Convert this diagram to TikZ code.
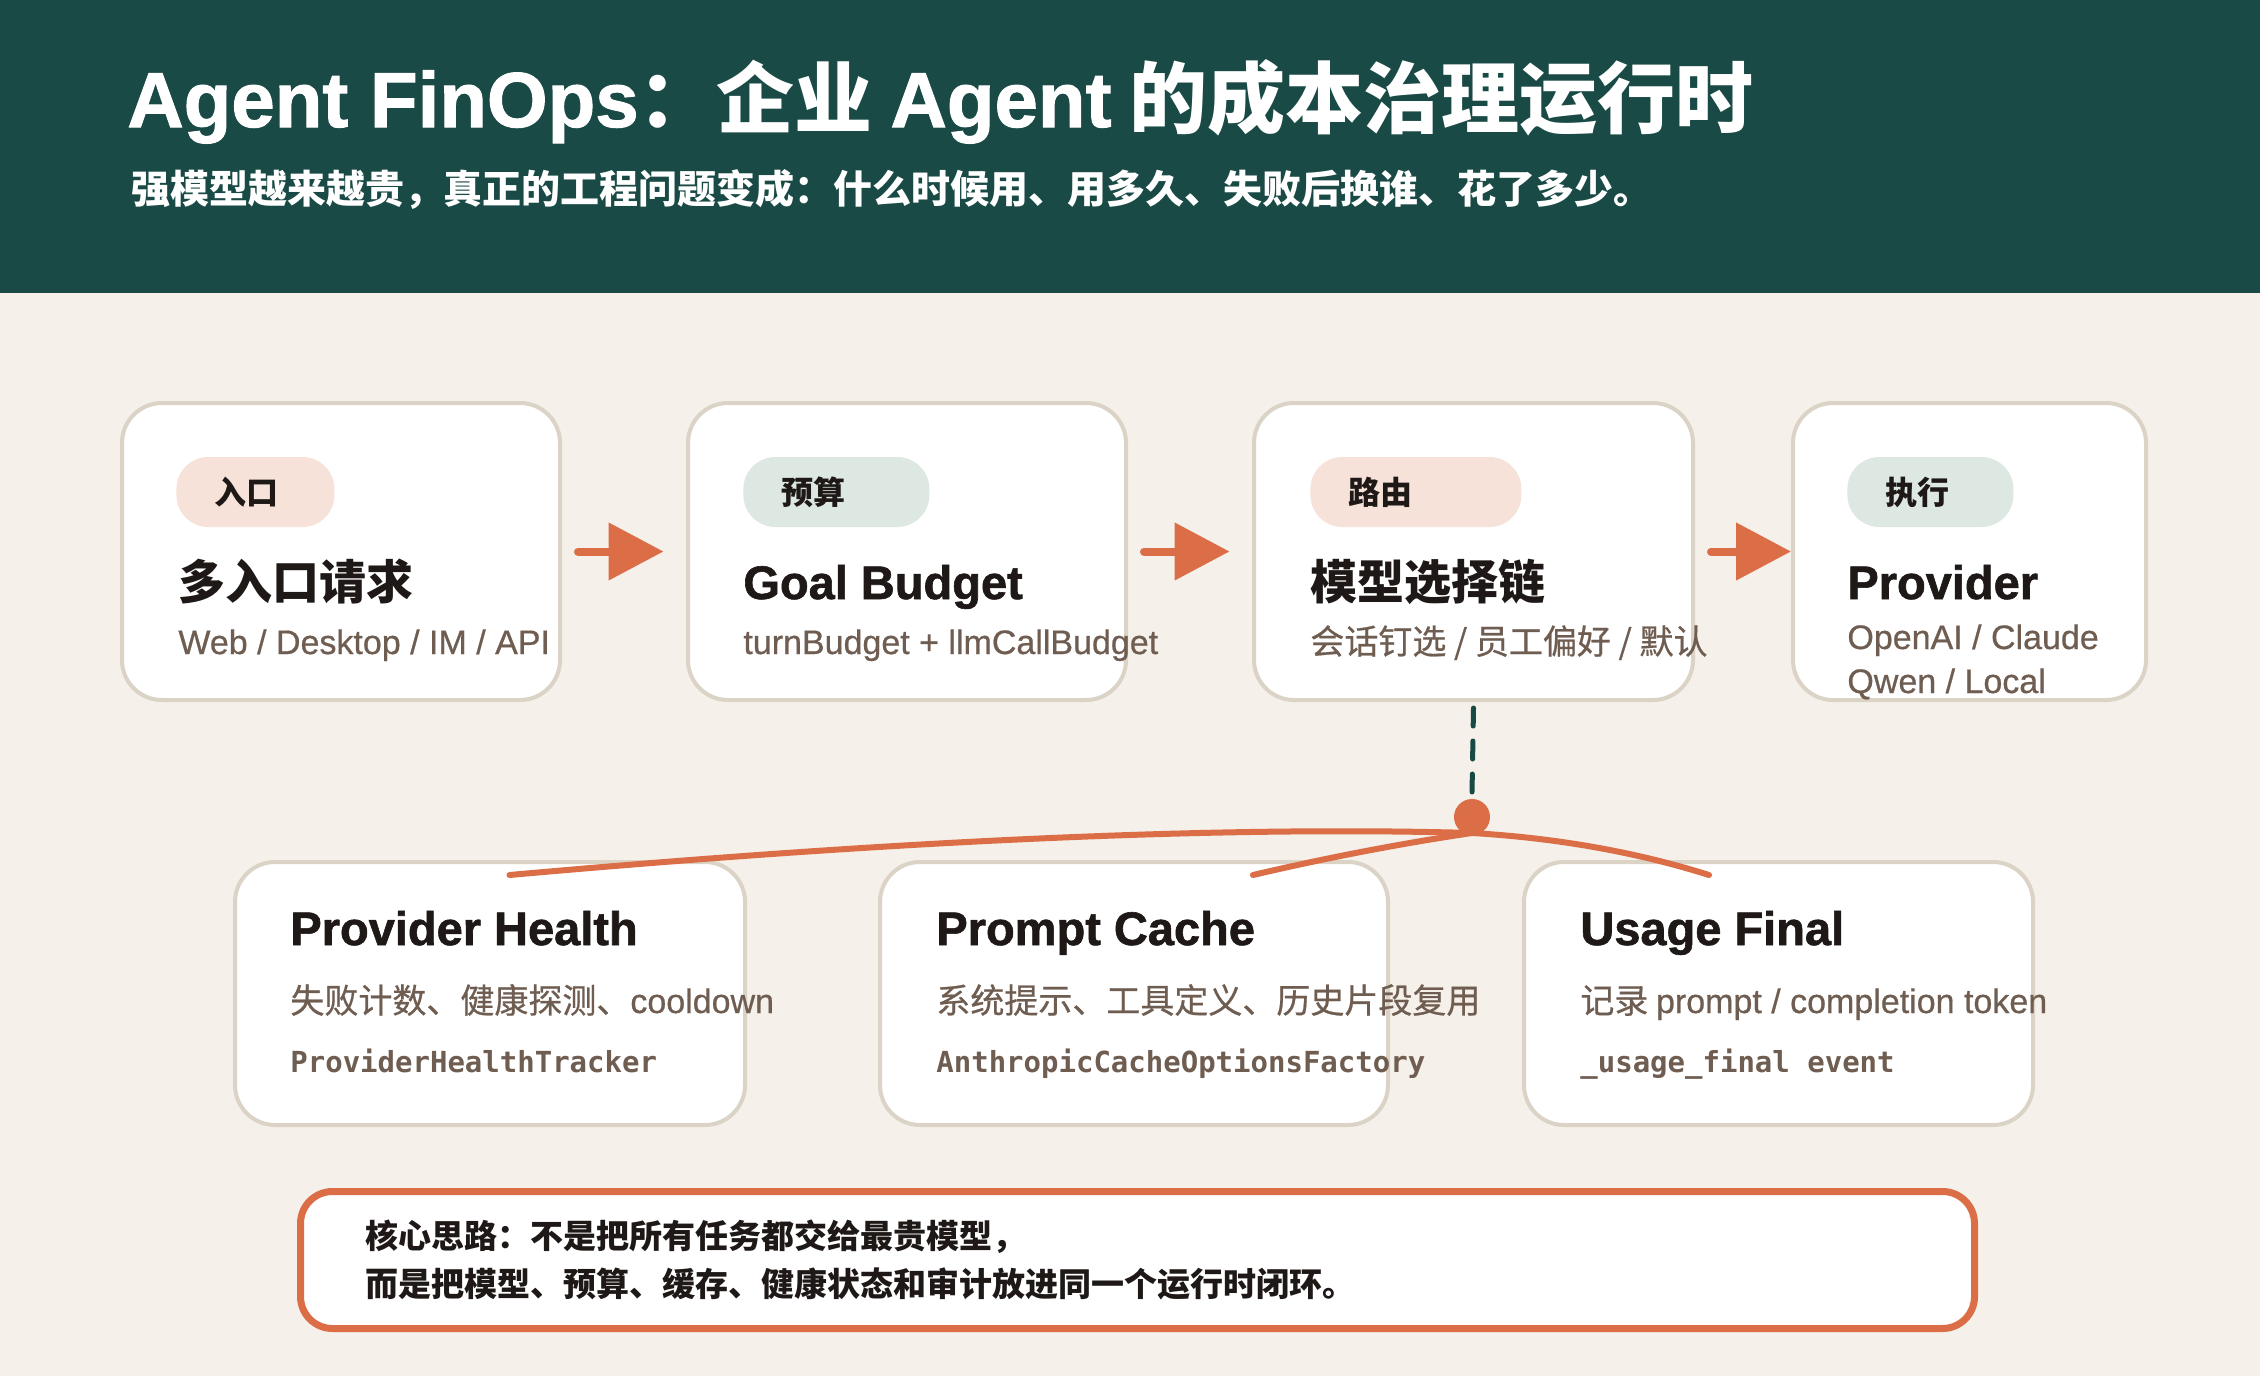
\documentclass[tikz,border=0pt]{standalone}
\usepackage{fontspec}
\usetikzlibrary{arrows.meta}
\setmainfont{Noto Sans CJK SC}[UprightFeatures={FakeBold=0.6}]
\newfontfamily\latin{Liberation Sans}[UprightFeatures={FakeBold=0.6}, BoldFeatures={FakeBold=1.3}]
\newfontfamily\codefont{DejaVu Sans Mono}
\definecolor{headbg}{HTML}{1A4A45}
\definecolor{pagebg}{HTML}{F5F0E9}
\definecolor{cardline}{HTML}{DCD3C7}
\definecolor{accent}{HTML}{DC6E47}
\definecolor{tagpeach}{HTML}{F6E2D8}
\definecolor{tagsage}{HTML}{DDE8E2}
\definecolor{ink}{HTML}{1E1917}
\definecolor{inksub}{HTML}{6E5D50}
\definecolor{dashgreen}{HTML}{174A44}
\tikzset{
  card/.style={draw=cardline, line width=2pt, fill=white, rounded corners=20pt,
               anchor=north west, inner sep=0pt},
  tag/.style={fill=#1, rounded corners=16pt, minimum height=35pt, anchor=west,
              inner xsep=19pt, inner ysep=0pt, align=left, text=ink,
              font=\bfseries\fontsize{16pt}{16pt}\selectfont},
  heading/.style={anchor=base west, inner sep=0pt, text=ink,
                  font=\bfseries\fontsize{23.5pt}{23.5pt}\selectfont},
  subline/.style={anchor=base west, inner sep=0pt, text=inksub,
                  font=\fontsize{17pt}{17pt}\selectfont},
  codeline/.style={anchor=base west, inner sep=0pt, text=inksub,
                   font=\codefont\bfseries\fontsize{14.5pt}{14.5pt}\selectfont},
  flow/.style={draw=accent, line width=4pt, line cap=round,
               -{Triangle[length=27.5pt, width=28pt]}},
  branch/.style={draw=accent, line width=3pt, line cap=round},
  dashlink/.style={draw=dashgreen, line width=2.5pt, line cap=round,
                   dash pattern=on 9pt off 7.5pt},
  hubdot/.style={circle, fill=accent, minimum size=18pt, inner sep=0pt},
  notebox/.style={draw=accent, line width=3.5pt, fill=white, rounded corners=16pt,
                  anchor=north west, minimum width=837pt, minimum height=68.5pt,
                  text width=772pt, inner xsep=32.5pt, align=left, text=ink,
                  font=\bfseries\fontsize{16.5pt}{24pt}\selectfont},
}

\begin{document}
\begin{tikzpicture}[x=0.5pt, y=-0.5pt]
    \useasboundingbox (0,0) rectangle (2260,1376);
    \fill[pagebg] (0,0) rectangle (2260,1376);
    \fill[headbg] (0,0) rectangle (2260,293);
    \node[anchor=base west, inner sep=0pt, text=white, font=\bfseries\fontsize{39pt}{39pt}\selectfont]
      (title) at (127,127) {{\latin Agent FinOps}：企业 {\latin Agent} 的成本治理运行时};
    \node[anchor=base west, inner sep=0pt, text=white, font=\bfseries\fontsize{19.5pt}{19.5pt}\selectfont]
      (subtitle) at (131,203) {强模型越来越贵，真正的工程问题变成：什么时候用、用多久、失败后换谁、花了多少。};

    \node[card, minimum width=219pt, minimum height=148.5pt] (entry) at (120,401) {};
    \node[card, minimum width=219pt, minimum height=148.5pt] (budget) at (686,401) {};
    \node[card, minimum width=219.5pt, minimum height=148.5pt] (route) at (1252,401) {};
    \node[card, minimum width=176.5pt, minimum height=148.5pt] (exec) at (1791,401) {};

    \node[tag=tagpeach, text width=41pt] (t1) at (176,492) {入口};
    \node[tag=tagsage, text width=55pt] (t2) at (743,492) {预算};
    \node[tag=tagpeach, text width=67.5pt] (t3) at (1310,492) {路由};
    \node[tag=tagsage, text width=45pt] (t4) at (1847,492) {执行};

    \node[heading] (h1) at (178,599) {多入口请求};
    \node[heading] (h2) at (743,599) {\latin Goal Budget};
    \node[heading] (h3) at (1310,599) {模型选择链};
    \node[heading] (h4) at (1847,599) {\latin Provider};

    \node[subline] (s1) at (178,654) {\latin Web / Desktop / IM / API};
    \node[subline] (s2) at (743,654) {\latin turnBudget + llmCallBudget};
    \node[subline] (s3) at (1310,654) {会话钉选 / 员工偏好 / 默认};
    \node[subline] (s4) at (1847,649) {\latin OpenAI / Claude};
    \node[subline] (s5) at (1847,693) {\latin Qwen / Local};

    \draw[flow] ([xshift=8pt]entry.east) -- ([xshift=-11.25pt]budget.west);
    \draw[flow] ([xshift=8pt]budget.east) -- ([xshift=-11.25pt]route.west);
    \draw[flow] ([xshift=8pt]route.east) -- (exec.west);

    \node[card, minimum width=255pt, minimum height=131.5pt] (health) at (233,860) {};
    \node[card, minimum width=254pt, minimum height=131.5pt] (cache) at (878,860) {};
    \node[card, minimum width=254.5pt, minimum height=131.5pt] (usage) at (1522,860) {};

    \node[heading] (h5) at (290,945) {\latin Provider Health};
    \node[heading] (h6) at (936,945) {\latin Prompt Cache};
    \node[heading] (h7) at (1580,945) {\latin Usage Final};

    \node[subline] (s6) at (290,1013) {失败计数、健康探测、{\latin cooldown}};
    \node[subline] (s7) at (936,1013) {系统提示、工具定义、历史片段复用};
    \node[subline] (s8) at (1580,1013) {记录 {\latin prompt / completion token}};

    \node[codeline] (k1) at (290,1072) {ProviderHealthTracker};
    \node[codeline] (k2) at (936,1072) {AnthropicCacheOptionsFactory};
    \node[codeline] (k3) at (1580,1072) {\_usage\_final event};

    \coordinate (hubc) at (1472,817);
    \draw[dashlink] ([yshift=-3pt]route.south) -- ([yshift=12pt]hubc);
    \draw[branch] ([yshift=-8pt]hubc) .. controls (1224,826) and (902,840) .. ([xshift=9.75pt,yshift=-7.5pt]health.north);
    \draw[branch] ([yshift=-8pt]hubc) .. controls (1404,843) and (1330,857) .. ([xshift=59.5pt,yshift=-7.5pt]cache.north);
    \draw[branch] ([yshift=-8pt]hubc) .. controls (1557,838) and (1636,852) .. ([xshift=-34.75pt,yshift=-7.5pt]usage.north);
    \node[hubdot] (hub) at (hubc) {};

    \node[notebox] (idea) at (297,1188) {核心思路：不是把所有任务都交给最贵模型，\\而是把模型、预算、缓存、健康状态和审计放进同一个运行时闭环。};
  \end{tikzpicture}
\end{document}
